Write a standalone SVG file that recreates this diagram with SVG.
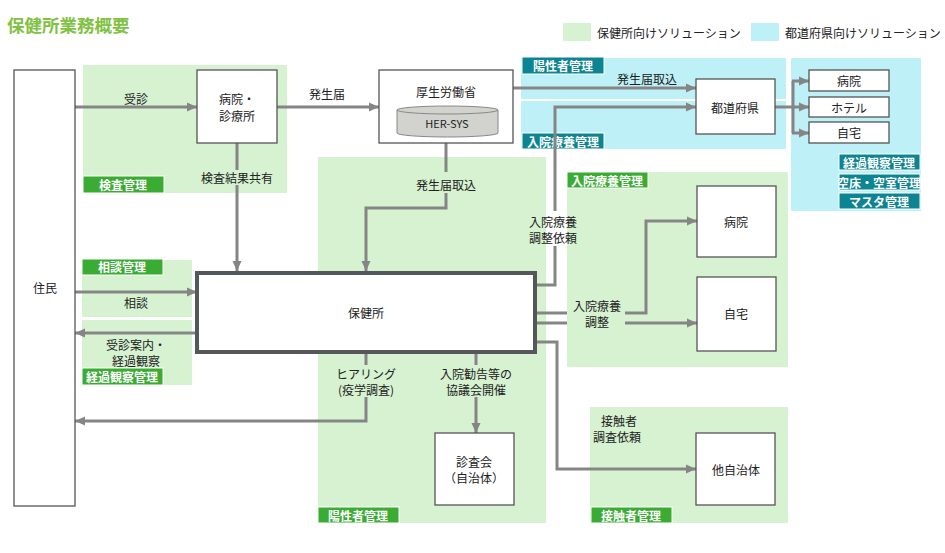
<svg xmlns="http://www.w3.org/2000/svg" width="945" height="553" viewBox="0 0 945 553">
<style>
text{font-family:"Noto Sans CJK JP","Noto Sans",sans-serif;font-size:12px;fill:#222;text-anchor:middle;dominant-baseline:central}
.g{fill:#d6f2d1}
.c{fill:#bdf1f7}
.bg{fill:#3aab33;stroke:#fff;stroke-width:1}
.bt{fill:#0d8491;stroke:#fff;stroke-width:1}
.bl{fill:#fff;font-weight:bold;font-size:12px}
.box{fill:#fff;stroke:#555;stroke-width:1.3}
.ln{fill:none;stroke:#858585;stroke-width:3}
</style>
<defs>
<marker id="ah" markerWidth="10" markerHeight="10" refX="10" refY="5" orient="auto" markerUnits="userSpaceOnUse"><path d="M0,0.5 L10,5 L0,9.5 z" fill="#858585"/></marker>
</defs>
<rect width="945" height="553" fill="#fff"/>
<text x="7" y="24" style="font-size:17.5px;font-weight:bold;fill:#80c242;text-anchor:start">保健所業務概要</text>
<g id="legend">
<rect x="563" y="23" width="28" height="18" class="g"/>
<text x="597" y="32" style="text-anchor:start">保健所向けソリューション</text>
<rect x="751" y="23" width="28" height="18" class="c"/>
<text x="785" y="32" style="text-anchor:start">都道府県向けソリューション</text>
</g>
<g id="regions">
<rect x="83" y="65" width="204" height="128" class="g"/>
<rect x="318" y="157" width="228" height="366" class="g"/>
<rect x="82" y="260" width="110" height="57" class="g"/>
<rect x="82" y="320" width="110" height="65" class="g"/>
<rect x="567" y="172" width="221" height="195" class="g"/>
<rect x="590" y="407" width="198" height="116" class="g"/>
<rect x="521" y="58" width="265" height="41" class="c"/>
<rect x="521" y="101" width="265" height="48" class="c"/>
<rect x="791" y="58" width="130" height="153" class="c"/>
</g>
<g id="badges">
<rect x="83" y="176" width="81" height="17" class="bg"/><text x="123" y="184.5" class="bl">検査管理</text>
<rect x="82" y="259" width="81" height="16" class="bg"/><text x="122" y="266" class="bl">相談管理</text>
<rect x="82" y="368" width="81" height="17" class="bg"/><text x="122" y="376.5" class="bl">経過観察管理</text>
<rect x="318" y="507" width="81" height="16" class="bg"/><text x="358" y="515" class="bl">陽性者管理</text>
<rect x="567" y="172" width="81" height="16" class="bg"/><text x="607" y="180" class="bl">入院療養管理</text>
<rect x="591" y="507" width="81" height="16" class="bg"/><text x="631" y="515" class="bl">接触者管理</text>
<rect x="522" y="57" width="82" height="17" class="bt"/><text x="563" y="65" class="bl">陽性者管理</text>
<rect x="522" y="133" width="82" height="16" class="bt"/><text x="563" y="141" class="bl">入院療養管理</text>
<rect x="839" y="154" width="81" height="16" class="bt"/><text x="879" y="162" class="bl">経過観察管理</text>
<rect x="839" y="174" width="81" height="16" class="bt"/><text x="879" y="182" class="bl">空床・空室管理</text>
<rect x="839" y="193" width="81" height="16" class="bt"/><text x="879" y="201" class="bl">マスタ管理</text>
</g>
<g id="connectors">
<path class="ln" d="M75,107H197" marker-end="url(#ah)"/>
<path class="ln" d="M277,107H379" marker-end="url(#ah)"/>
<path class="ln" d="M237,143V170"/>
<path class="ln" d="M237,185V271" marker-end="url(#ah)"/>
<path class="ln" d="M446,143V172"/>
<path class="ln" d="M446,193V208H366V271" marker-end="url(#ah)"/>
<path class="ln" d="M513,88H696" marker-end="url(#ah)"/>
<path class="ln" d="M537,285H555V246"/>
<path class="ln" d="M555,211V107H696" marker-end="url(#ah)"/>
<path class="ln" d="M775,107H793"/>
<path class="ln" d="M793,81V133"/>
<path class="ln" d="M792,81H809" marker-end="url(#ah)"/>
<path class="ln" d="M793,107H809" marker-end="url(#ah)"/>
<path class="ln" d="M792,133H809" marker-end="url(#ah)"/>
<path class="ln" d="M75,292H197" marker-end="url(#ah)"/>
<path class="ln" d="M197,333H75" marker-end="url(#ah)"/>
<path class="ln" d="M366,353V365"/>
<path class="ln" d="M366,397V421H75" marker-end="url(#ah)"/>
<path class="ln" d="M476,353V365"/>
<path class="ln" d="M476,397V433" marker-end="url(#ah)"/>
<path class="ln" d="M537,313H567"/>
<path class="ln" d="M625,313H646V221H697" marker-end="url(#ah)"/>
<path class="ln" d="M537,323H567"/>
<path class="ln" d="M625,323H697" marker-end="url(#ah)"/>
<path class="ln" d="M537,342H557V469H696" marker-end="url(#ah)"/>
</g>
<g id="labels">
<text x="136" y="98">受診</text>
<text x="327" y="93">発生届</text>
<text x="237" y="177">検査結果共有</text>
<text x="446" y="184">発生届取込</text>
<text x="647" y="78">発生届取込</text>
<text x="553" y="221">入院療養<tspan x="553" dy="16">調整依頼</tspan></text>
<text x="136" y="344">受診案内・<tspan x="136" dy="16">経過観察</tspan></text>
<text x="136" y="302">相談</text>
<text x="366" y="373">ヒアリング<tspan x="366" dy="16">(疫学調査)</tspan></text>
<text x="476" y="373">入院勧告等の<tspan x="476" dy="16">協議会開催</tspan></text>
<text x="597" y="305">入院療養<tspan x="597" dy="16">調整</tspan></text>
<text x="619" y="420">接触者<tspan x="617" dy="16">調査依頼</tspan></text>
</g>
<g id="n-jumin"><rect x="14" y="70" width="61" height="436" class="box"/><text x="45" y="287">住民</text></g>
<g id="n-byoin"><rect x="197" y="70" width="80" height="73" class="box"/><text x="237" y="98.5">病院・<tspan x="237" dy="16">診療所</tspan></text></g>
<g id="n-mhlw"><rect x="379" y="70" width="134" height="73" class="box"/><text x="446" y="91">厚生労働省</text>
<path d="M397,110V133A50.5,4 0 0 0 498,133V110" fill="#d2d2ce" stroke="#888" stroke-width="1"/>
<ellipse cx="447.5" cy="110" rx="50.5" ry="4" fill="#d2d2ce" stroke="#888" stroke-width="1"/>
<text x="447" y="123" style="font-size:11px">HER-SYS</text></g>
<g id="n-hokenjo"><rect x="197" y="273" width="338" height="79" fill="#fff" stroke="#54585c" stroke-width="4"/><text x="366" y="312">保健所</text></g>
<g id="n-shinsakai"><rect x="435" y="433" width="79" height="72" class="box"/><text x="474" y="461">診査会<tspan x="474" dy="16">（自治体）</tspan></text></g>
<g id="n-todofuken"><rect x="696" y="79" width="79" height="55" class="box"/><text x="735" y="107">都道府県</text></g>
<g id="n-r-byoin"><rect x="809" y="70" width="80" height="21" class="box"/><text x="849" y="80.5">病院</text></g>
<g id="n-r-hotel"><rect x="809" y="97" width="80" height="20" class="box"/><text x="849" y="107">ホテル</text></g>
<g id="n-r-jitaku"><rect x="809" y="122" width="80" height="21" class="box"/><text x="849" y="132.5">自宅</text></g>
<g id="n-byoin2"><rect x="697" y="186" width="79" height="71" class="box"/><text x="736" y="221">病院</text></g>
<g id="n-jitaku2"><rect x="697" y="277" width="79" height="74" class="box"/><text x="736" y="313">自宅</text></g>
<g id="n-tajichitai"><rect x="696" y="433" width="79" height="72" class="box"/><text x="736" y="469">他自治体</text></g>
</svg>
